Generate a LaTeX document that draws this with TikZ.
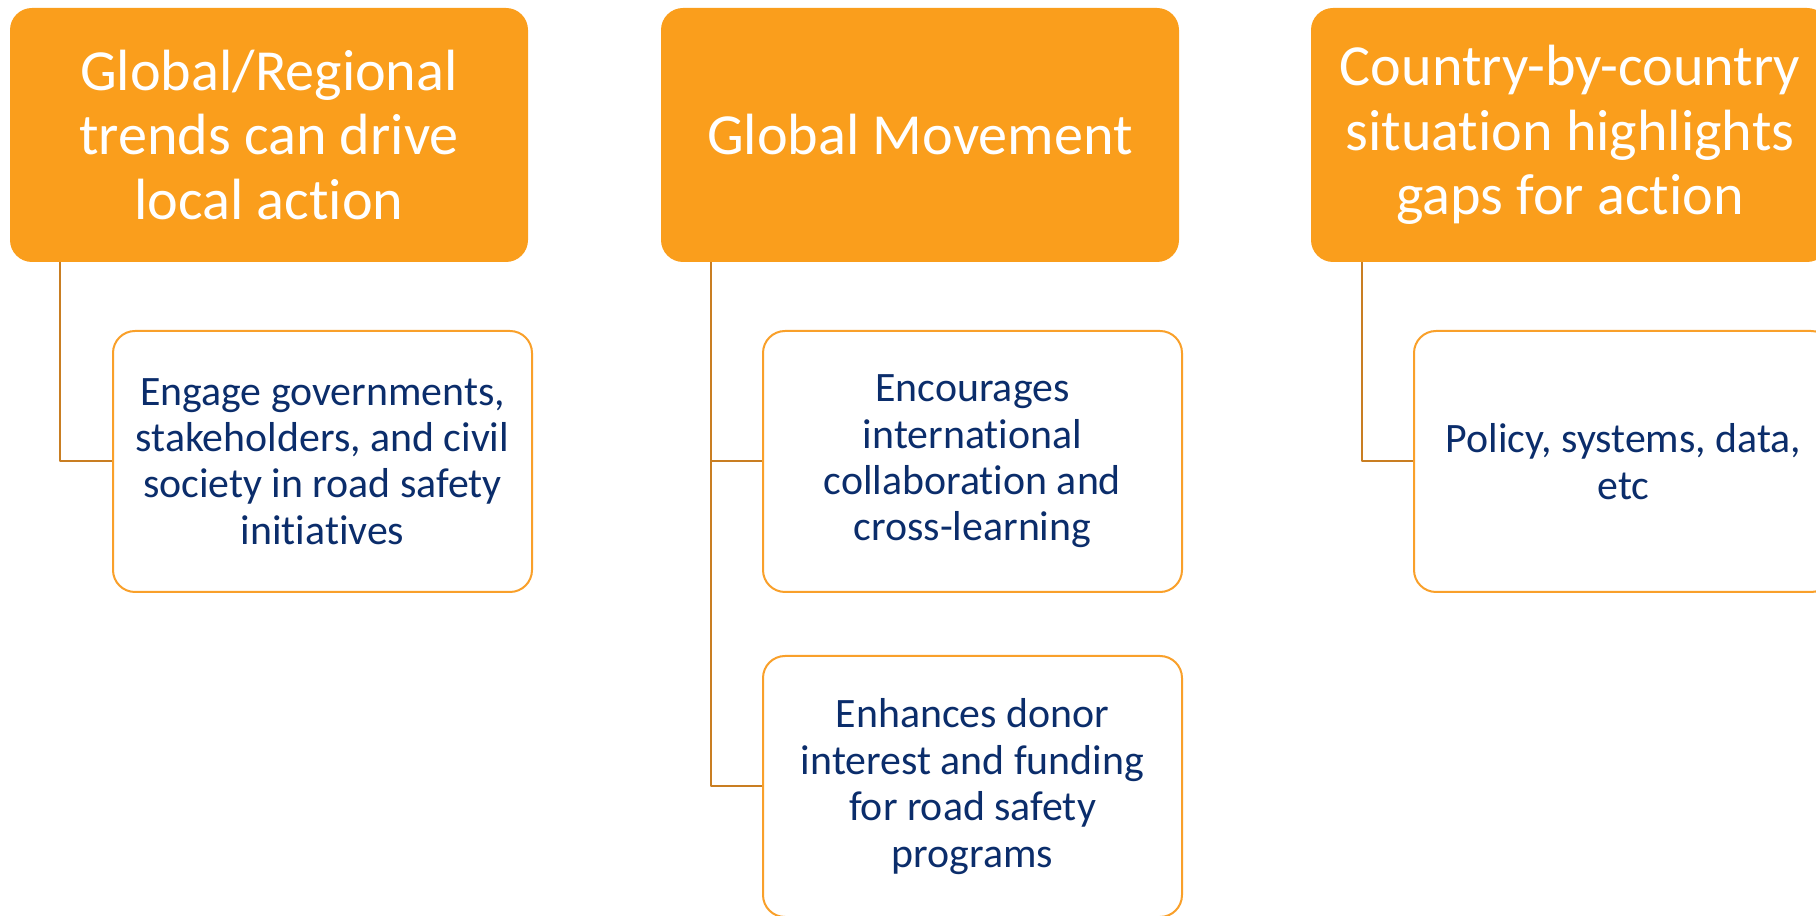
\documentclass[tikz,border=0pt]{standalone}
\usepackage{fontspec}
\setmainfont{Carlito}[Ligatures=NoCommon]
\definecolor{headfill}{HTML}{FA9E1C}
\definecolor{itemline}{HTML}{F9A02A}
\definecolor{linkcol}{HTML}{C97E22}
\definecolor{itemtext}{HTML}{0B2D6B}
\begin{document}
\begin{tikzpicture}[>=latex,line join=bevel,
  headbox/.style={rectangle,rounded corners=11bp,fill=headfill,text=white,
    minimum width=259bp,minimum height=127bp,inner sep=0pt,align=center,
    font=\fontsize{29.2}{32.5}\selectfont},
  itembox/.style={rectangle,rounded corners=11bp,draw=itemline,line width=1bp,fill=white,
    text=itemtext,minimum width=209.5bp,minimum height=130.5bp,inner sep=0pt,align=center,
    font=\fontsize{21}{23.3}\selectfont},
  link/.style={draw=linkcol,line width=1bp}]
  \clip (0bp,0bp) rectangle (908bp,458bp);
%%
  % Node: Regional
\begin{scope}
  \node[headbox] (regional) at (134.5bp,390.5bp) {Global/Regional\\trends can drive\\local action};
\end{scope}
  % Node: Movement
\begin{scope}
  \node[headbox] (movement) at (460bp,390.5bp) {Global Movement};
\end{scope}
  % Node: Country
\begin{scope}
  \node[headbox] (country) at (785bp,390.5bp) {Country-by-country\\situation highlights\\gaps for action};
\end{scope}
  % Node: Engage
\begin{scope}
  \node[itembox] (engage) at (161.25bp,227.25bp) {Engage governments,\\stakeholders, and civil\\society in road safety\\initiatives};
\end{scope}
  % Node: Encourage
\begin{scope}
  \node[itembox] (encourage) at (486.25bp,227.25bp) {Encourages\\international\\collaboration and\\cross-learning};
\end{scope}
  % Node: Donor
\begin{scope}
  \node[itembox] (donor) at (486.25bp,64.75bp) {Enhances donor\\interest and funding\\for road safety\\programs};
\end{scope}
  % Node: Policy
\begin{scope}
  \node[itembox] (policy) at (811.75bp,227.25bp) {Policy, systems, data,\\etc};
\end{scope}
  % Edge: Regional -> Engage
  \draw[link] (regional.south west) ++(25bp,0bp) |- (engage.west);
  % Edge: Movement -> Encourage
  \draw[link] (movement.south west) ++(25bp,0bp) |- (encourage.west);
  % Edge: Movement -> Donor
  \draw[link] (movement.south west) ++(25bp,0bp) |- (donor.west);
  % Edge: Country -> Policy
  \draw[link] (country.south west) ++(25.5bp,0bp) |- (policy.west);
%
\end{tikzpicture}
\end{document}
